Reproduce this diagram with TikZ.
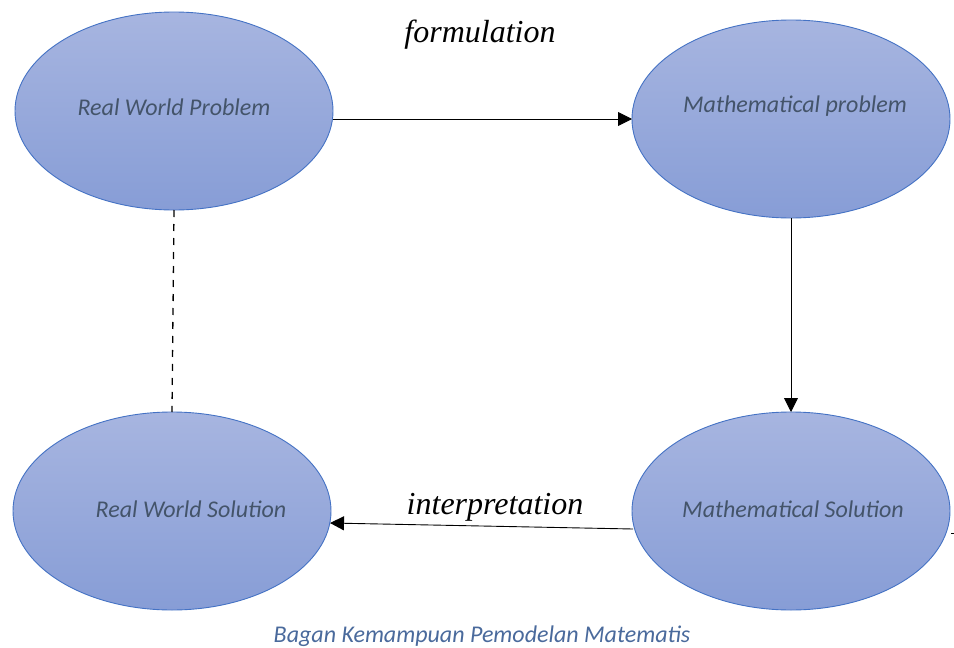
\documentclass[tikz,border=0pt]{standalone}
\usepackage{fontspec}
\setmainfont{Liberation Serif}
\newfontfamily\calib{Carlito}
\usetikzlibrary{shapes.geometric,arrows.meta}
\definecolor{ellTop}{HTML}{A7B5E0}
\definecolor{ellBot}{HTML}{879DD6}
\definecolor{ellEdge}{HTML}{4472C4}
\definecolor{txtGray}{HTML}{44546A}
\definecolor{capBlue}{HTML}{4A6A9C}
\tikzset{
  blob/.style={ellipse, draw=ellEdge, line width=0.9pt, top color=ellTop, bottom color=ellBot,
    minimum width=318pt, minimum height=198pt, inner sep=0pt},
  intext/.style={font=\calib\itshape\fontsize{24}{28}\selectfont, text=txtGray, inner sep=0pt},
  lbl/.style={font=\itshape\fontsize{32}{38}\selectfont, text=black, inner sep=0pt},
  conn/.style={line width=0.9pt, -{Triangle[length=14pt,width=14pt]}},
  dashconn/.style={line width=1.3pt, dash pattern=on 7pt off 7pt}
}
\begin{document}
\begin{tikzpicture}[x=1pt,y=-1pt]
\useasboundingbox (0,0) rectangle (954,648);
\node[blob] (rwp) at (174,111) {};
\node[blob] (mp) at (791,119) {};
\node[blob] (rws) at (172,511) {};
\node[blob] (ms) at (791,511) {};
\node[intext] (t1) at (174,107) {Real World Problem};
\node[intext] (t2) at (795,106) {Mathematical problem};
\node[intext] (t3) at (191,509) {Real World Solution};
\node[intext] (t4) at (793,509) {Mathematical Solution};
\node[lbl] (form) at (480,35) {formulation};
\node[lbl] (interp) at (495,507) {interpretation};
\node[font=\calib\itshape\fontsize{24}{28}\selectfont, text=capBlue, inner sep=0pt] (cap) at (482,636) {Bagan Kemampuan Pemodelan Matematis};
\coordinate (a1) at (333,119);
\coordinate (a2) at (632,119);
\draw[conn] (a1) -- (a2);
\coordinate (b1) at (791,218);
\coordinate (b2) at (791,412);
\draw[conn] (b1) -- (b2);
\coordinate (c1) at (633,529);
\coordinate (c2) at (330,523);
\draw[conn] (c1) -- (c2);
\coordinate (d1) at (174,210);
\coordinate (d2) at (172,412);
\draw[dashconn] (d1) -- (d2);
\coordinate (e1) at (951,533);
\coordinate (e2) at (954,533);
\draw[line width=0.9pt] (e1) -- (e2);
\end{tikzpicture}
\end{document}
